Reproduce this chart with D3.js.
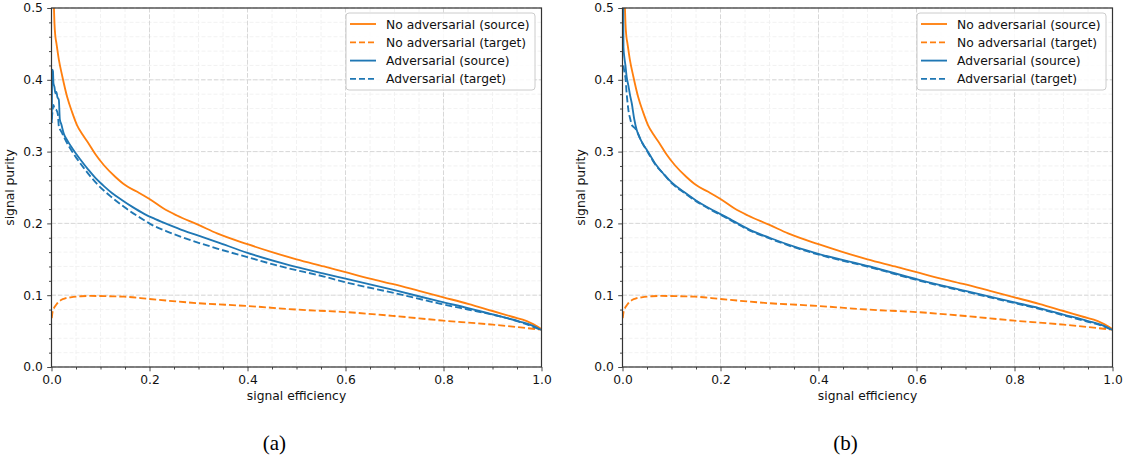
<!DOCTYPE html>
<html><head><meta charset="utf-8">
<script src="https://cdn.jsdelivr.net/npm/d3@7"></script>
<style>
body{margin:0;background:#fff;}
</style></head>
<body><svg id="chart" width="1132" height="461"></svg>
<script>
// ---- data: [signal efficiency, signal purity] pairs ----
const noAdvSource = [[0.003,0.56],[0.005,0.50],[0.006,0.479],[0.008,0.46],[0.010,0.451],[0.015,0.428],[0.022,0.405],[0.032,0.376],[0.042,0.355],[0.052,0.337],[0.064,0.323],[0.076,0.311],[0.09,0.296],[0.107,0.281],[0.13,0.265],[0.151,0.253],[0.175,0.244],[0.2,0.234],[0.228,0.221],[0.256,0.211],[0.3,0.198],[0.338,0.186],[0.4,0.171],[0.45,0.16],[0.5,0.150],[0.556,0.140],[0.6,0.132],[0.65,0.123],[0.7,0.115],[0.75,0.106],[0.8,0.097],[0.85,0.088],[0.9,0.078],[0.94,0.07],[0.97,0.064],[0.99,0.057],[1.0,0.0525]];
const noAdvTarget = [[0.0005,0.068],[0.002,0.076],[0.005,0.082],[0.01,0.087],[0.015,0.091],[0.025,0.095],[0.039,0.097],[0.06,0.0985],[0.08,0.099],[0.12,0.0985],[0.148,0.098],[0.2,0.0947],[0.3,0.0888],[0.4,0.085],[0.5,0.080],[0.6,0.0765],[0.7,0.071],[0.8,0.0645],[0.9,0.059],[1.0,0.052]];
const advSourceA = [[0.0005,0.34],[0.001,0.39],[0.0015,0.414],[0.003,0.412],[0.004,0.395],[0.006,0.39],[0.008,0.381],[0.01,0.383],[0.012,0.376],[0.015,0.372],[0.017,0.345],[0.02,0.338],[0.025,0.325],[0.032,0.316],[0.04,0.307],[0.049,0.298],[0.06,0.288],[0.075,0.275],[0.09,0.263],[0.107,0.252],[0.124,0.242],[0.145,0.232],[0.165,0.223],[0.19,0.213],[0.212,0.206],[0.24,0.198],[0.27,0.190],[0.3,0.183],[0.338,0.174],[0.4,0.159],[0.474,0.144],[0.556,0.130],[0.6,0.123],[0.7,0.107],[0.794,0.091],[0.85,0.082],[0.896,0.074],[0.93,0.068],[0.957,0.063],[0.98,0.058],[1.0,0.0515]];
const advTargetA = [[0.0005,0.345],[0.002,0.355],[0.004,0.365],[0.006,0.36],[0.01,0.358],[0.013,0.352],[0.015,0.335],[0.02,0.328],[0.025,0.321],[0.035,0.308],[0.049,0.293],[0.065,0.278],[0.09,0.257],[0.12,0.238],[0.15,0.222],[0.19,0.204],[0.202,0.199],[0.235,0.189],[0.27,0.180],[0.338,0.165],[0.4,0.153],[0.474,0.139],[0.556,0.126],[0.6,0.118],[0.7,0.103],[0.794,0.088],[0.85,0.080],[0.9,0.073],[0.95,0.064],[1.0,0.0515]];
const advSourceB = [[0.0015,0.52],[0.0018,0.47],[0.002,0.445],[0.004,0.43],[0.006,0.42],[0.0085,0.404],[0.012,0.392],[0.015,0.38],[0.019,0.367],[0.024,0.345],[0.029,0.330],[0.036,0.318],[0.043,0.309],[0.05,0.302],[0.068,0.282],[0.085,0.268],[0.102,0.256],[0.125,0.244],[0.15,0.232],[0.18,0.220],[0.211,0.209],[0.26,0.191],[0.3,0.180],[0.349,0.168],[0.403,0.157],[0.505,0.140],[0.607,0.121],[0.7,0.106],[0.8,0.090],[0.85,0.082],[0.9,0.073],[0.95,0.064],[0.98,0.058],[1.0,0.0515]];
const advTargetB = [[0.002,0.42],[0.004,0.41],[0.0065,0.40],[0.008,0.385],[0.01,0.37],[0.012,0.358],[0.016,0.345],[0.019,0.337],[0.025,0.333],[0.03,0.328],[0.036,0.318],[0.05,0.301],[0.068,0.281],[0.085,0.268],[0.102,0.255],[0.125,0.243],[0.15,0.231],[0.18,0.219],[0.211,0.208],[0.26,0.190],[0.3,0.179],[0.349,0.167],[0.403,0.156],[0.505,0.139],[0.607,0.120],[0.7,0.105],[0.8,0.089],[0.85,0.081],[0.9,0.072],[0.95,0.063],[0.98,0.057],[1.0,0.0515]];

const legendLabels = ["No adversarial (source)","No adversarial (target)","Adversarial (source)","Adversarial (target)"];
const xTicks = [0,0.2,0.4,0.6,0.8,1.0];
const yTicks = [0,0.1,0.2,0.3,0.4,0.5];
const xMinor = d3.range(0,1.0001,0.05);
const yMinor = d3.range(0,0.5001,0.02);
const panelCaptions = ["(a)","(b)"];

const ORANGE = "#ff7f0e", BLUE = "#1f77b4";
const panels = [
  {left:51.5, caption:panelCaptions[0], series:[noAdvSource,noAdvTarget,advSourceA,advTargetA]},
  {left:622.5, caption:panelCaptions[1], series:[noAdvSource,noAdvTarget,advSourceB,advTargetB]}
];
const styles = [{c:ORANGE,dash:null},{c:ORANGE,dash:"7,3"},{c:BLUE,dash:null},{c:BLUE,dash:"7,3"}];
const W = 490, plotTop = 8, plotBottom = 367;
const svg = d3.select("#chart");
const FS = 12.3;
const SANS = "'DejaVu Sans', sans-serif";
const SERIF = "'Liberation Serif', 'Times New Roman', serif";

panels.forEach((p,pi)=>{
  const x = d3.scaleLinear().domain([0,1]).range([p.left,p.left+W]);
  const y = d3.scaleLinear().domain([0,0.5]).range([plotBottom,plotTop]);
  const g = svg.append("g");
  // minor grid
  g.append("g").selectAll("line").data(xMinor).join("line")
    .attr("x1",d=>x(d)).attr("x2",d=>x(d)).attr("y1",plotTop).attr("y2",plotBottom)
    .attr("stroke","#efefef").attr("stroke-width",0.8).attr("stroke-dasharray","4,2");
  g.append("g").selectAll("line").data(yMinor).join("line")
    .attr("y1",d=>y(d)).attr("y2",d=>y(d)).attr("x1",x(0)).attr("x2",x(1))
    .attr("stroke","#efefef").attr("stroke-width",0.8).attr("stroke-dasharray","4,2");
  // major grid
  g.append("g").selectAll("line").data(xTicks).join("line")
    .attr("x1",d=>x(d)).attr("x2",d=>x(d)).attr("y1",plotTop).attr("y2",plotBottom)
    .attr("stroke","#d8d8d8").attr("stroke-width",1).attr("stroke-dasharray","4.5,2");
  g.append("g").selectAll("line").data(yTicks).join("line")
    .attr("y1",d=>y(d)).attr("y2",d=>y(d)).attr("x1",x(0)).attr("x2",x(1))
    .attr("stroke","#d8d8d8").attr("stroke-width",1).attr("stroke-dasharray","4.5,2");

  // lines
  const clipId = "clip"+pi;
  svg.append("clipPath").attr("id",clipId).append("rect")
    .attr("x",x(0)).attr("y",plotTop).attr("width",W).attr("height",plotBottom-plotTop);
  const line = d3.line().x(d=>x(d[0])).y(d=>y(d[1])).curve(d3.curveMonotoneX);
  const lg = g.append("g").attr("clip-path",`url(#${clipId})`);
  p.series.forEach((s,i)=>{
    lg.append("path").datum(s).attr("d",line).attr("fill","none")
      .attr("stroke",styles[i].c).attr("stroke-width",1.85)
      .attr("stroke-dasharray",styles[i].dash);
  });

  // axes
  const xAxis = d3.axisBottom(x).tickValues(xTicks).tickFormat(d3.format(".1f")).tickSize(4.3).tickPadding(4.3);
  const yAxis = d3.axisLeft(y).tickValues(yTicks).tickFormat(d3.format(".1f")).tickSize(4.3).tickPadding(4.3);
  g.append("g").attr("transform",`translate(0,${plotBottom})`).call(xAxis);
  g.append("g").attr("transform",`translate(${p.left},0)`).call(yAxis);
  g.append("g").attr("transform",`translate(0,${plotBottom})`)
    .call(d3.axisBottom(x).tickValues(xMinor.filter(v=>Math.round(v*100)%20!==0)).tickSize(2.5).tickFormat(""));
  g.append("g").attr("transform",`translate(${p.left},0)`)
    .call(d3.axisLeft(y).tickValues(yMinor.filter(v=>Math.round(v*100)%10!==0)).tickSize(2.5).tickFormat(""));
  g.selectAll(".domain").remove();
  g.selectAll(".tick line").attr("stroke","#333").attr("stroke-width",0.9);
  g.selectAll(".tick text").attr("font-size",FS).attr("fill","#111").style("font-family",SANS);
  // frame
  g.append("rect").attr("x",x(0)).attr("y",plotTop).attr("width",W).attr("height",plotBottom-plotTop)
    .attr("fill","none").attr("stroke","#333").attr("stroke-width",1.2);

  // axis labels
  g.append("text").attr("x",x(0.5)).attr("y",400).attr("text-anchor","middle")
    .style("font-family",SANS).attr("font-size",FS).attr("fill","#111").text("signal efficiency");
  g.append("text").attr("transform",`translate(${p.left-37.5},${(plotTop+plotBottom)/2}) rotate(-90)`)
    .attr("text-anchor","middle").style("font-family",SANS).attr("font-size",FS).attr("fill","#111").text("signal purity");

  // caption
  g.append("text").attr("x",x(0.455)).attr("y",450).attr("text-anchor","middle")
    .style("font-family",SERIF).attr("font-size",21)
    .attr("fill","#000").text(p.caption);

  // legend
  const lx = x(1)-6.5-189, ly = plotTop+5;
  const leg = g.append("g");
  leg.append("rect").attr("x",lx).attr("y",ly).attr("width",189).attr("height",77)
    .attr("rx",3).attr("fill","#fff").attr("fill-opacity",0.85).attr("stroke","#cccccc").attr("stroke-width",1);
  legendLabels.forEach((lab,i)=>{
    const cy = ly + 11 + i*18.3;
    leg.append("line").attr("x1",lx+4).attr("x2",lx+30).attr("y1",cy).attr("y2",cy)
      .attr("stroke",styles[i].c).attr("stroke-width",1.85).attr("stroke-dasharray",styles[i].dash?"6,3":null);
    leg.append("text").attr("x",lx+40).attr("y",cy+4.5).style("font-family",SANS).attr("font-size",FS).attr("fill","#111").text(lab);
  });
});
</script></body></html>
